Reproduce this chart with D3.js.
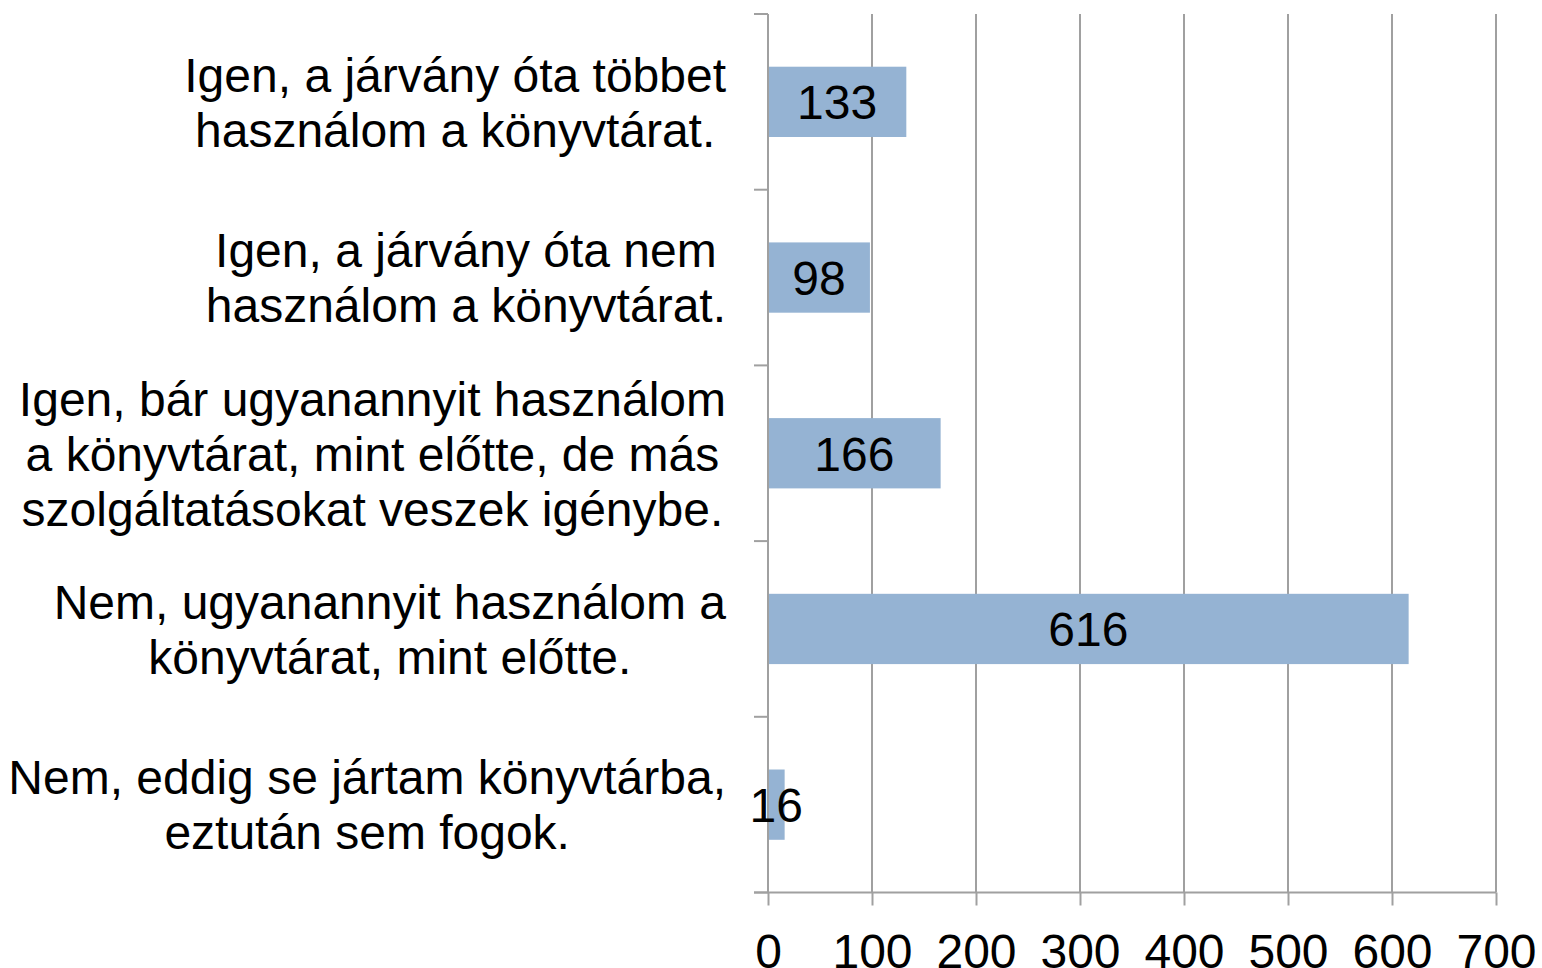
<!DOCTYPE html>
<html>
<head>
<meta charset="utf-8">
<script src="https://cdn.jsdelivr.net/npm/d3@7"></script>
<style>
  body { margin: 0; background: #fff; }
  text { font-family: "Liberation Sans", Arial, sans-serif; fill: #000; }
</style>
</head>
<body>
<div id="chart"></div>
<script>
// data
const categories = [
    ["Igen, a járvány óta többet", "használom a könyvtárat."],
    ["Igen, a járvány óta nem", "használom a könyvtárat."],
    ["Igen, bár ugyanannyit használom", "a könyvtárat, mint előtte, de más", "szolgáltatásokat veszek igénybe."],
    ["Nem, ugyanannyit használom a", "könyvtárat, mint előtte."],
    ["Nem, eddig se jártam könyvtárba,", "eztután sem fogok."]
];
const values = [133, 98, 166, 616, 16];
const xTicks = [0, 100, 200, 300, 400, 500, 600, 700];

const width = 1542, height = 968;
const margin = { top: 14, right: 46, bottom: 76, left: 768 };
const labelRight = 726;
const fontSize = 48;
const gridColor = "#a0a0a0";

const svg = d3.select("#chart").append("svg")
    .attr("width", width)
    .attr("height", height);

const x = d3.scaleLinear()
    .domain([0, 700])
    .range([margin.left, margin.left + 728]);

const y = d3.scaleBand()
    .domain(d3.range(categories.length))
    .range([margin.top, height - margin.bottom + 0.5])
    .paddingInner(0.6)
    .paddingOuter(0.3);

const yBottom = height - margin.bottom + 0.5;
const step = y.step();

// vertical gridlines
svg.append("g")
    .selectAll("line")
    .data(xTicks.slice(1))
    .join("line")
        .attr("x1", d => x(d))
        .attr("x2", d => x(d))
        .attr("y1", margin.top)
        .attr("y2", yBottom)
        .style("stroke", gridColor)
        .style("stroke-width", 2);

// bars
svg.append("g")
    .selectAll("rect")
    .data(values)
    .join("rect")
        .attr("x", x(0))
        .attr("y", (d, i) => y(i))
        .attr("width", d => x(d) - x(0))
        .attr("height", y.bandwidth())
        .style("fill", "#95b3d3");

// left axis line + category ticks
const boundaries = d3.range(categories.length + 1).map(i => margin.top + i * step);
svg.append("line")
    .attr("x1", x(0)).attr("x2", x(0))
    .attr("y1", margin.top).attr("y2", yBottom)
    .style("stroke", gridColor).style("stroke-width", 2);
svg.append("g")
    .selectAll("line")
    .data(boundaries)
    .join("line")
        .attr("x1", x(0) - 14)
        .attr("x2", x(0))
        .attr("y1", d => d)
        .attr("y2", d => d)
        .style("stroke", gridColor).style("stroke-width", 2);

// bottom axis
const xAxis = svg.append("g")
    .attr("transform", `translate(0,${yBottom})`)
    .call(d3.axisBottom(x).tickValues(xTicks).tickSize(13).tickPadding(28).tickSizeOuter(0));
xAxis.select(".domain").remove();
xAxis.selectAll(".tick line").style("stroke", gridColor).style("stroke-width", 2);
xAxis.selectAll(".tick text")
    .style("font-size", fontSize + "px")
    .style("font-family", "Liberation Sans, Arial, sans-serif")
    .attr("fill", "#000");
svg.append("line")
    .attr("x1", x(0) - 14).attr("x2", x(700))
    .attr("y1", yBottom).attr("y2", yBottom)
    .style("stroke", gridColor).style("stroke-width", 2);

// value labels
svg.append("g")
    .selectAll("text")
    .data(values)
    .join("text")
        .attr("x", d => (x(0) + x(d)) / 2)
        .attr("y", (d, i) => y(i) + y.bandwidth() / 2)
        .attr("dy", "0.36em")
        .attr("text-anchor", "middle")
        .style("font-size", fontSize + "px")
        .text(d => d);

// category labels (lines centred on each other, block right-aligned)
const lineHeight = 55;
const labels = svg.append("g");
categories.forEach((lines, i) => {
    const cy = y(i) + y.bandwidth() / 2;
    const t = labels.append("text")
        .attr("text-anchor", "middle")
        .style("font-size", fontSize + "px");
    const spans = lines.map((ln, j) => t.append("tspan")
        .attr("y", cy + (j - (lines.length - 1) / 2) * lineHeight)
        .attr("dy", "0.36em")
        .text(ln));
    const maxW = d3.max(spans, s => s.node().getComputedTextLength());
    spans.forEach(s => s.attr("x", labelRight - maxW / 2));
});
</script>
</body>
</html>
